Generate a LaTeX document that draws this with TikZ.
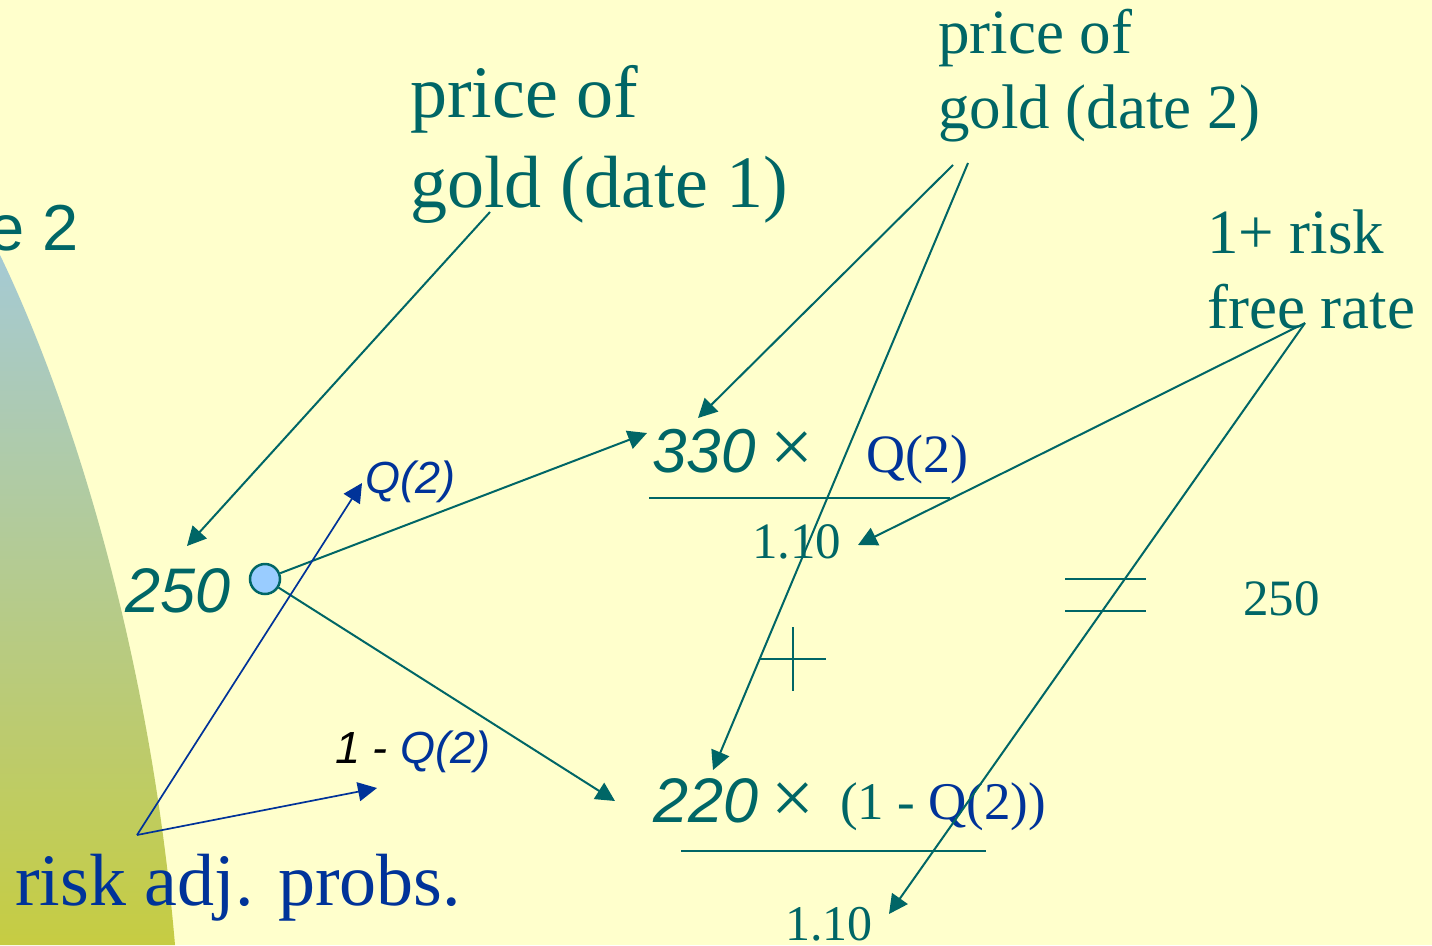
\documentclass[tikz,border=0pt]{standalone}
\usepackage{fontspec}
\setmainfont{Liberation Serif}
\setsansfont{Liberation Sans}
\usetikzlibrary{positioning, arrows.meta}
\definecolor{goldteal}{HTML}{006666}
\definecolor{probblue}{HTML}{003399}
\definecolor{slidebg}{HTML}{FFFFCC}
\definecolor{nodefill}{HTML}{99CCFF}
\definecolor{fadetop}{RGB}{165,202,212}
\definecolor{fadebot}{RGB}{198,204,66}
\newcommand{\fs}[2]{\fontsize{#1}{#2}\selectfont}

\begin{document}
\begin{tikzpicture}[x=1pt, y=-1pt,
  txt/.style={inner sep=0pt, anchor=base west, text=goldteal},
  tarrow/.style={-{Triangle[length=19pt, width=19pt]}, line width=2pt, goldteal},
  barrow/.style={-{Triangle[length=19pt, width=19pt]}, line width=1.7pt, probblue},
  bar/.style={line width=2pt, goldteal}]
\useasboundingbox (0,0) rectangle (1432,945);
\fill[slidebg] (0,0) rectangle (1432,945);
\clip (0,0) rectangle (1432,945);

% Background swoosh
\shade[top color=fadetop, bottom color=fadebot]
  (0,255) .. controls (70,400) and (150,650) .. (175,945) -- (0,945) -- cycle;
\node[txt, anchor=base east, font=\sffamily\fs{65}{78}] (title) at (79,250) {e 2};

% Labels
\node[txt, align=left, font=\fs{74}{90}] (gold1) at (410,207) {price of\\gold (date 1)};
\node[txt, align=left, font=\fs{63}{75}] (gold2) at (938,128) {price of\\gold (date 2)};
\node[txt, align=left, font=\fs{63}{75}] (rate) at (1207,328) {1+ risk\\free rate};
\node[txt, text=probblue, font=\fs{74}{90}] (probs) at (15,905) {risk adj. probs.};

% Tree
\node[txt, font=\sffamily\itshape\fs{63}{75}] (spot) at (125,612) {250};
\node[draw=goldteal, line width=2.5pt, fill=nodefill, circle, minimum size=30pt, inner sep=0pt] (root) at (265,579) {};
\node[txt, text=probblue, font=\sffamily\itshape\fs{45}{54}] (qup) at (365,493) {Q(2)};
\node[txt, font=\sffamily\itshape\fs{45}{54}] (qdown) at (335,763) {\textcolor{black}{1 - }\textcolor{probblue}{Q(2)}};

% Up state
\node[txt, font=\sffamily\itshape\fs{62}{75}] (up) at (652,472) {330};
\node[inner sep=0pt, text=goldteal, font=\fs{76}{80}] (xup) at (792,452) {×};
\node[txt, text=probblue, font=\fs{54}{60}] (qnum) at (866,472) {Q(2)};
\draw[bar] (649,498) -- (950,498);
\node[txt, font=\fs{51}{60}] (den1) at (752,558) {1.10};

% Down state
\node[txt, font=\sffamily\itshape\fs{63}{75}] (down) at (653,822) {220};
\node[inner sep=0pt, text=goldteal, font=\fs{76}{80}] (xdown) at (793,803) {×};
\node[txt, font=\fs{53}{60}] (qden) at (840,819) {(1 - \textcolor{probblue}{Q(2))}};
\draw[bar] (681,851) -- (986,851);
\node[txt, font=\fs{50}{60}] (den2) at (785,940) {1.10};

% Plus and equals
\draw[bar] (760,659) -- (826,659);
\draw[bar] (793,627) -- (793,691);
\draw[bar] (1065,579) -- (1146,579);
\draw[bar] (1065,611) -- (1146,611);
\node[txt, font=\fs{51}{60}] (price) at (1243,615) {250};

% Arrow ends
\coordinate (g1) at (490,212);
\coordinate (g2a) at (953,165);
\coordinate (g2b) at (968,163);
\coordinate (rf) at (1305,323);
\coordinate (pr) at (137,835);
\coordinate (toSpot) at (187,546);
\coordinate (toUp) at (698,418);
\coordinate (toDown) at (713,770);
\coordinate (toDen1) at (858,545);
\coordinate (toDen2) at (889,914);
\coordinate (upTip) at (647,433);
\coordinate (downTip) at (615,801);
\coordinate (toQup) at (362,483);
\coordinate (toQdown) at (377,788);

% Arrows
\draw[tarrow] (g1) -- (toSpot);
\draw[tarrow] (g2a) -- (toUp);
\draw[tarrow] (g2b) -- (toDown);
\draw[tarrow] (rf) -- (toDen1);
\draw[tarrow] (rf) -- (toDen2);
\draw[tarrow] (root) -- (upTip);
\draw[tarrow] (root) -- (downTip);
\draw[barrow] (pr) -- (toQup);
\draw[barrow] (pr) -- (toQdown);
\end{tikzpicture}
\end{document}
